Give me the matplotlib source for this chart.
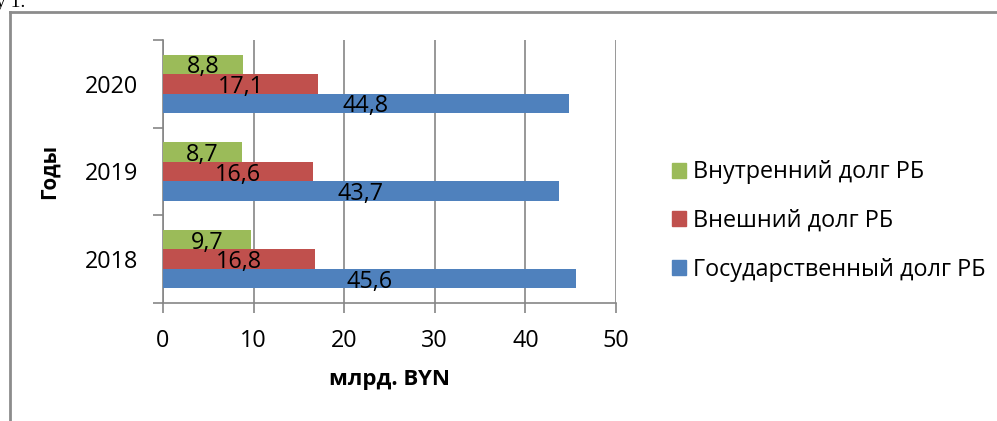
import numpy as np
import matplotlib
matplotlib.use("Agg")
import matplotlib.pyplot as plt
from matplotlib.lines import Line2D
from matplotlib.patches import Patch

years = ["2018", "2019", "2020"]
gov_debt = [45.6, 43.7, 44.8]
ext_debt = [16.8, 16.6, 17.1]
int_debt = [9.7, 8.7, 8.8]

series = [
    ("Государственный долг РБ", gov_debt, "#4F81BD"),
    ("Внешний долг РБ", ext_debt, "#C0504D"),
    ("Внутренний долг РБ", int_debt, "#9BBB59"),
]

plt.rcParams["font.family"] = ["Open Sans", "DejaVu Sans"]
fs = 16.8

fig = plt.figure(figsize=(9.97, 4.21), dpi=100)
ax = fig.add_axes([163 / 997, 1 - 303 / 421, (616 - 163) / 997, (303 - 40) / 421])

y = np.arange(len(years))
h = 0.222
offsets = [-h, 0, h]
grey = "#868686"

for (name, vals, col), off in zip(series, offsets):
    bars = ax.barh(y + off, vals, height=h, color=col, label=name, zorder=3)
    for b, v in zip(bars, vals):
        ax.text(b.get_width() / 2, b.get_y() + b.get_height() / 2,
                f"{v:.1f}".replace(".", ","), ha="center", va="center_baseline",
                fontsize=fs, zorder=4)

ax.set_xlim(0, 50)
ax.set_ylim(-0.5, 2.5)
ax.set_xticks(range(0, 51, 10))
ax.set_yticks([-0.5, 0.5, 1.5, 2.5])
ax.set_yticklabels([])
ax.set_yticks(y, minor=True)
ax.set_yticklabels(years, minor=True, fontsize=fs)
ax.tick_params(axis="y", which="minor", length=0, pad=18)
ax.tick_params(axis="y", which="major", length=7, width=1.2, color=grey)
ax.tick_params(axis="x", length=7, width=1.2, color=grey, labelsize=fs, pad=11.5)

ax.grid(axis="x", color=grey, linewidth=1.2, zorder=0)
for s in ["top", "right"]:
    ax.spines[s].set_visible(False)
for s in ["left", "bottom"]:
    ax.spines[s].set_color(grey)
    ax.spines[s].set_linewidth(1.2)

ax.set_xlabel("млрд. BYN", fontsize=16, fontweight="bold", labelpad=12)
ax.set_ylabel("Годы", fontsize=14.8, fontweight="bold", labelpad=18)

handles = [Patch(color=c, label=n) for n, _, c in series[::-1]]
fig.legend(handles=handles, loc="center left", bbox_to_anchor=(672 / 997, 1 - 221 / 421),
           frameon=False, fontsize=fs, handlelength=0.6, handleheight=0.6,
           handletextpad=0.3, labelspacing=1.05, borderpad=0, borderaxespad=0)

# frame around the chart and cut text of the document
fig.add_artist(Line2D([10 / 997, 10 / 997], [0, 1 - 12 / 421], color="#8c8c8c", linewidth=2))
fig.add_artist(Line2D([10 / 997, 1], [1 - 12 / 421, 1 - 12 / 421], color="#8c8c8c", linewidth=2))
fig.text(-4 / 997, 1 - 7 / 421, "у 1.", family="Liberation Serif", fontsize=14, va="baseline")

fig.savefig("out.png", dpi=100)
